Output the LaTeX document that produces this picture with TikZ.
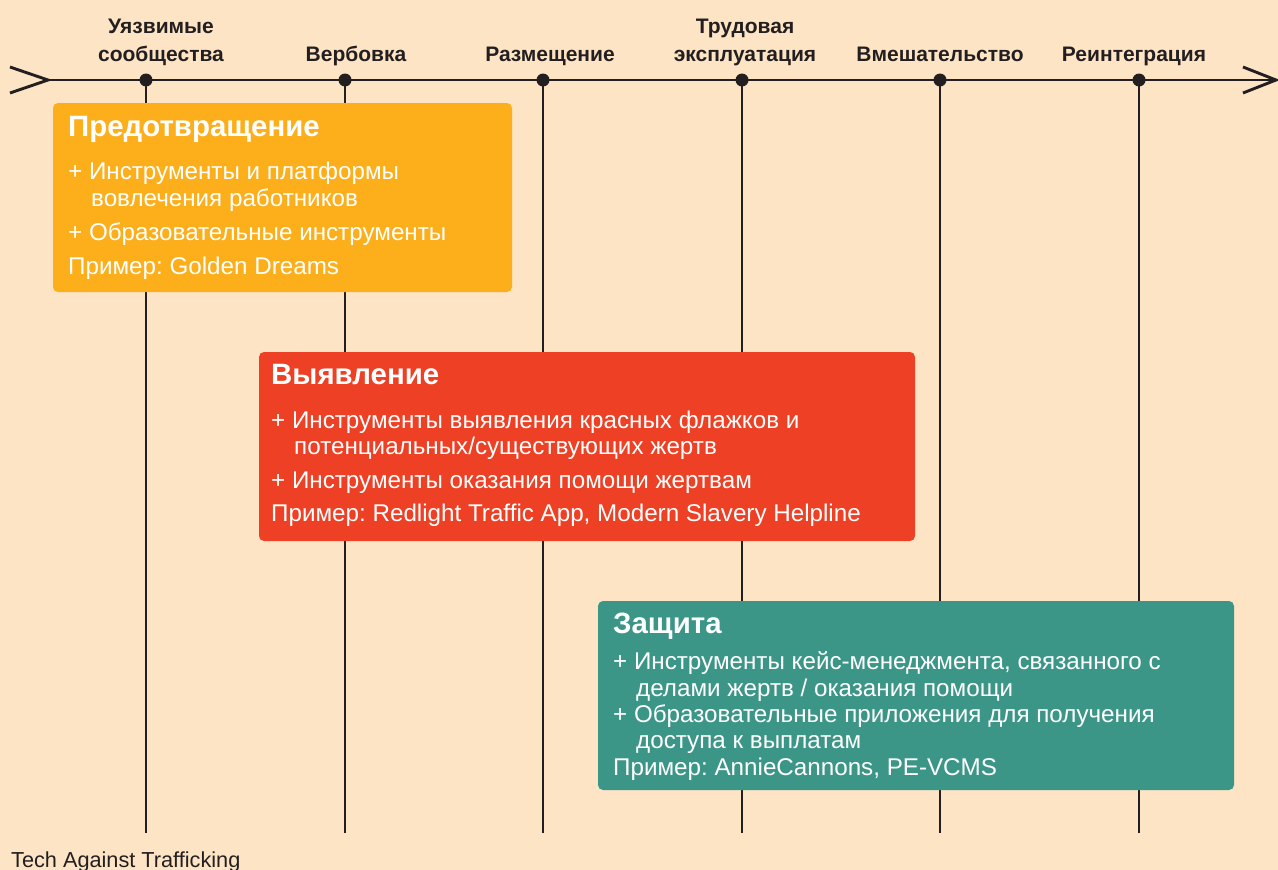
\documentclass[tikz,border=0pt]{standalone}
\usepackage{fontspec}
\setmainfont{Liberation Sans}
\frenchspacing
\definecolor{bg}{HTML}{FDE4C5}
\definecolor{ink}{HTML}{231F20}
\definecolor{cprev}{HTML}{FCAF1A}
\definecolor{cdet}{HTML}{EE4024}
\definecolor{cprot}{HTML}{3C9688}
\tikzset{
  axisline/.style={draw=ink, line width=2.9pt},
  stageline/.style={draw=ink, line width=2.5pt},
  dotmark/.style={circle, fill=ink, inner sep=0pt, minimum size=13pt},
  stagelabel/.style={font=\fontsize{21}{28}\selectfont\bfseries, text=ink, align=center, anchor=base, inner sep=0pt},
  boxshape/.style={rounded corners=5pt, draw=none},
  boxtitle/.style={font=\fontsize{29.4}{32}\selectfont\bfseries, text=white, anchor=base west, inner sep=0pt},
  boxline/.style={font=\fontsize{24.2}{28}\selectfont, text=white, anchor=base west, inner sep=0pt},
}
\begin{document}
\begin{tikzpicture}[x=1pt,y=-1pt]
\fill[bg] (0,0) rectangle (1278,870);
\useasboundingbox (0,0) rectangle (1278,870);
% axis
\coordinate (axL) at (48,80);
\coordinate (axR) at (1276,80);
\coordinate (tl1) at (10,67);
\coordinate (tl2) at (10,93);
\coordinate (hd1) at (1243,67);
\coordinate (hd2) at (1243,93);
% vertical stage lines
\foreach \i/\x in {1/146,2/345,3/543,4/742,5/940,6/1139}{
  \coordinate (top\i) at (\x,80);
  \coordinate (bot\i) at (\x,833);
  \draw[stageline] (top\i) -- (bot\i);
}
\draw[axisline] (axL) -- (axR);
\draw[axisline, line join=miter] (tl1) -- (axL) -- (tl2);
\draw[axisline, line join=miter] (hd1) -- (axR) -- (hd2);
\foreach \i in {1,...,6}{
  \node[dotmark] (dot\i) at (top\i) {};
}
% stage labels
\node[stagelabel] (s1) at (161,61) {Уязвимые\\сообщества};
\node[stagelabel] (s2) at (356,61) {Вербовка};
\node[stagelabel] (s3) at (550,61) {Размещение};
\node[stagelabel] (s4) at (745,61) {Трудовая\\эксплуатация};
\node[stagelabel] (s5) at (940,61) {Вмешательство};
\node[stagelabel] (s6) at (1134,61) {Реинтеграция};
% boxes
\fill[cprev, boxshape] (53,103) rectangle (512,292);
\fill[cdet, boxshape] (259,352) rectangle (915,541);
\fill[cprot, boxshape] (598,601) rectangle (1234,790);
% box 1
\node[boxtitle] (p0) at (68,136) {Предотвращение};
\node[boxline] (p1) at (68,179) {+ Инструменты и платформы};
\node[boxline] (p2) at (91,206) {вовлечения работников};
\node[boxline] (p3) at (68,240) {+ Образовательные инструменты};
\node[boxline] (p4) at (68,274) {Пример: Golden Dreams};
% box 2
\node[boxtitle] (d0) at (271,384) {Выявление};
\node[boxline] (d1) at (271,428) {+ Инструменты выявления красных флажков и};
\node[boxline] (d2) at (294,454) {потенциальных/существующих жертв};
\node[boxline] (d3) at (271,488) {+ Инструменты оказания помощи жертвам};
\node[boxline] (d4) at (271,521) {Пример: Redlight Traffic App, Modern Slavery Helpline};
% box 3
\node[boxtitle] (r0) at (613,633) {Защита};
\node[boxline] (r1) at (613,669) {+ Инструменты кейс-менеджмента, связанного с};
\node[boxline] (r2) at (636,696) {делами жертв / оказания помощи};
\node[boxline] (r3) at (613,722) {+ Образовательные приложения для получения};
\node[boxline] (r4) at (636,748) {доступа к выплатам};
\node[boxline] (r5) at (613,775) {Пример: AnnieCannons, PE-VCMS};
% source
\node[font=\fontsize{21.7}{24}\selectfont, text=ink, anchor=base west, inner sep=0pt] (src) at (11,867) {Tech Against Trafficking};
\end{tikzpicture}
\end{document}
